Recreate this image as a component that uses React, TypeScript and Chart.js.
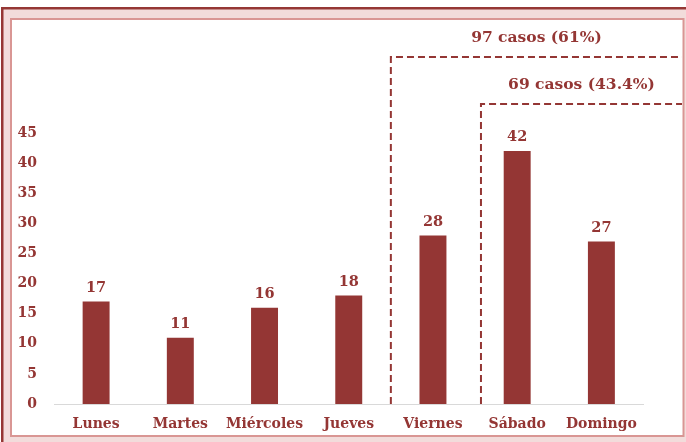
import React, { useEffect, useRef } from "react";
import { Chart, registerables } from "chart.js";

Chart.register(...registerables);

const categories = ["Lunes", "Martes", "Miércoles", "Jueves", "Viernes", "Sábado", "Domingo"];
const casos = [17, 11, 16, 18, 28, 42, 27];
const yTicks = [0, 5, 10, 15, 20, 25, 30, 35, 40, 45];
// bracket annotations: start position on category axis, top level on value axis, label
const bracketStarts = [3.5, 4.57];
const bracketTops = [57.6, 49.8];
const bracketLabels = ["97 casos (61%)", "69 casos (43.4%)"];

const RED = "#943634";
const FONT = "'DejaVu Serif', serif";

const framePlugin = {
  id: "frame",
  beforeDraw(chart: any) {
    const ctx = chart.ctx;
    ctx.save();
    ctx.fillStyle = "#ffffff";
    ctx.fillRect(0, 0, 686, 442);
    ctx.fillStyle = "#F2DCDB";
    ctx.fillRect(1, 7, 685, 435);
    ctx.fillStyle = "#953735";
    ctx.fillRect(1, 7, 2.5, 435);
    ctx.fillRect(1, 7, 685, 2.5);
    ctx.fillStyle = "#D99694";
    ctx.fillRect(10, 18, 674.5, 419);
    ctx.fillStyle = "#ffffff";
    ctx.fillRect(12, 20, 670.5, 415);
    ctx.restore();
  },
};

const annotPlugin = {
  id: "annot",
  afterDatasetsDraw(chart: any) {
    const ctx = chart.ctx;
    const xs = chart.scales.x;
    const ys = chart.scales.y;
    ctx.save();
    // value labels
    ctx.fillStyle = RED;
    ctx.font = `bold 14.5px ${FONT}`;
    ctx.textAlign = "center";
    ctx.textBaseline = "middle";
    const meta = chart.getDatasetMeta(0);
    meta.data.forEach((bar: any, i: number) => {
      ctx.fillText(String(casos[i]), bar.x, bar.y - 13.5);
    });
    // brackets
    const step = xs.getPixelForValue(1) - xs.getPixelForValue(0);
    const right = 682;
    const bottom = ys.getPixelForValue(0);
    ctx.strokeStyle = RED;
    ctx.lineWidth = 2;
    ctx.setLineDash([7, 4]);
    ctx.font = `bold 15.5px ${FONT}`;
    bracketStarts.forEach((s, i) => {
      const x = xs.getPixelForValue(0) + s * step;
      const y = ys.getPixelForValue(bracketTops[i]);
      ctx.beginPath();
      ctx.moveTo(x, bottom);
      ctx.lineTo(x, y);
      ctx.lineTo(right, y);
      ctx.stroke();
      ctx.fillText(bracketLabels[i], (x + right) / 2, y - 19.5);
    });
    ctx.restore();
  },
};

export default function App() {
  const ref = useRef<HTMLCanvasElement>(null);
  useEffect(() => {
    if (!ref.current) return;
    const chart = new Chart(ref.current, {
      type: "bar",
      data: {
        labels: categories,
        datasets: [
          {
            data: casos,
            backgroundColor: RED,
            borderWidth: 0,
            categoryPercentage: 1,
            barPercentage: 0.32,
          },
        ],
      },
      options: {
        responsive: false,
        animation: false,
        layout: { padding: { left: 12, top: 133, right: 42.5, bottom: 0 } },
        plugins: { legend: { display: false }, tooltip: { enabled: false } },
        scales: {
          x: {
            grid: { display: false, drawTicks: false },
            border: { display: true, color: "#D9D9D9", width: 1 },
            ticks: { color: RED, font: { family: FONT, size: 14, weight: "bold" }, padding: 12, maxRotation: 0 },
            afterFit(scale: any) {
              scale.height = 38;
            },
          },
          y: {
            min: 0,
            max: 45,
            grid: { display: false, drawTicks: false },
            border: { display: false },
            afterBuildTicks(scale: any) {
              scale.ticks = yTicks.map((v) => ({ value: v }));
            },
            ticks: { color: RED, font: { family: FONT, size: 14, weight: "bold" }, padding: 17 },
            afterFit(scale: any) {
              scale.width = 42;
            },
          },
        },
      },
      plugins: [framePlugin, annotPlugin],
    });
    return () => chart.destroy();
  }, []);
  return (
    <div style={{ position: "fixed", left: 0, top: 0, width: 686, height: 442 }}>
      <canvas ref={ref} width={686} height={442} style={{ display: "block" }} />
    </div>
  );
}
